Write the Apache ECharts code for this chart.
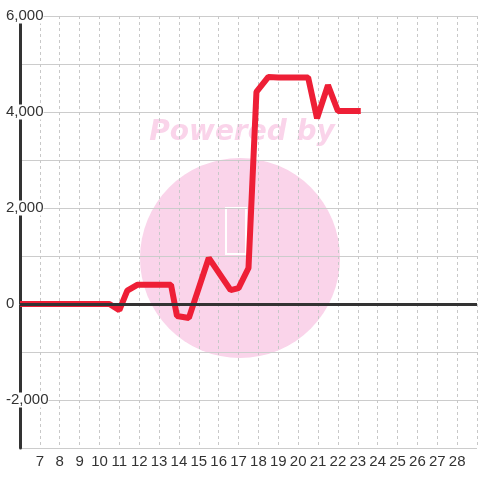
<!DOCTYPE html>
<html>
<head>
<meta charset="utf-8">
<script src="https://cdn.jsdelivr.net/npm/echarts@6/dist/echarts.min.js"></script>
<style>
  html, body { margin: 0; padding: 0; background: #fff; }
  #chart { width: 480px; height: 480px; }
</style>
</head>
<body>
<div id="chart"></div>
<script>
// 数据：x 位置（数值轴）与对应的 y 值
const xValues = [6, 10.5, 11, 11.4, 11.9, 13.6, 13.9, 14.5, 15.5, 16.6, 17, 17.5, 17.9, 18.5, 19, 20.5, 20.95, 21.5, 22, 23.15]
const yValues = [0, 0, -130, 280, 400, 400, -250, -290, 960, 290, 330, 750, 4420, 4730, 4720, 4720, 3870, 4560, 4020, 4020]

// 轴范围
const xRange = [6, 29]
const yRange = [-3000, 6000]

const FONT = "'Liberation Sans', Arial, sans-serif"
const TEXT_COLOR = '#333'
const WATERMARK = '#fad4ea'

const chart = echarts.init(document.getElementById('chart'))

chart.setOption({
  animation: false,
  backgroundColor: '#fff',
  grid: { left: 20, right: 0, top: 16, bottom: 32 },
  // 水印（Powered by + 圆形），放在网格线下面
  graphic: [
    {
      type: 'circle',
      z: -10,
      shape: { cx: 240, cy: 258, r: 100 },
      style: { fill: WATERMARK }
    },
    {
      type: 'rect',
      z: -9,
      shape: { x: 226, y: 208, width: 20, height: 46 },
      style: { fill: 'none', stroke: '#fff', lineWidth: 2 }
    },
    {
      type: 'text',
      z: -10,
      style: {
        x: 242, y: 133,
        text: 'Powered by',
        fill: WATERMARK,
        font: "italic bold 28px 'DejaVu Sans', sans-serif",
        align: 'center',
        verticalAlign: 'middle'
      }
    }
  ],
  xAxis: {
    type: 'value',
    min: xRange[0],
    max: xRange[1],
    interval: 1,
    axisLine: { lineStyle: { color: '#ccc', width: 1 } },
    axisTick: { show: false },
    axisLabel: {
      color: TEXT_COLOR,
      fontFamily: FONT,
      fontSize: 15,
      margin: 6,
      formatter: v => (v === xRange[0] || v === xRange[1]) ? '' : String(v)
    },
    splitLine: { show: true, lineStyle: { color: '#c8c8c8', type: [3, 3], width: 1 } }
  },
  yAxis: {
    type: 'value',
    min: yRange[0],
    max: yRange[1],
    interval: 1000,
    axisLine: { show: true, onZero: false, lineStyle: { color: '#333', width: 3 } },
    axisTick: { show: false },
    axisLabel: {
      color: TEXT_COLOR,
      fontFamily: FONT,
      fontSize: 15,
      align: 'left',
      margin: 14,
      backgroundColor: '#fff',
      formatter: v => (v % 2000 === 0) ? v.toLocaleString('en-US') : ''
    },
    splitLine: { show: true, lineStyle: { color: '#ccc', width: 1 } }
  },
  series: [
    {
      type: 'line',
      data: xValues.map((x, i) => [x, yValues[i]]),
      symbol: 'none',
      lineStyle: { color: '#ee1f36', width: 6 },
      z: 3,
      markLine: {
        silent: true,
        symbol: 'none',
        label: { show: false },
        lineStyle: { color: '#333', width: 3, type: 'solid' },
        data: [{ yAxis: 0 }]
      }
    }
  ]
})
</script>
</body>
</html>
